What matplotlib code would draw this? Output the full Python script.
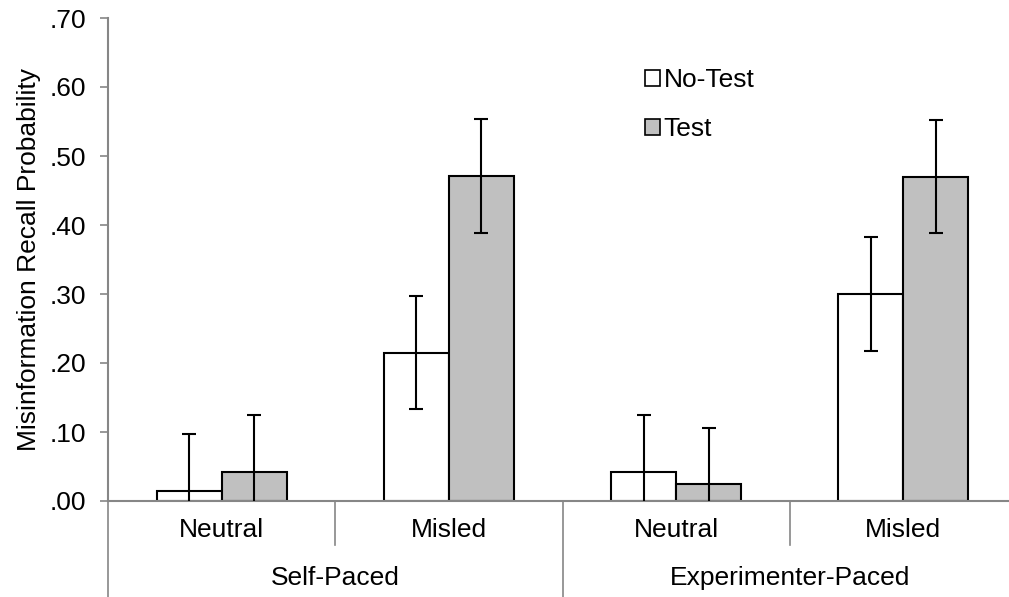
import matplotlib
matplotlib.use("Agg")
import matplotlib.pyplot as plt
import matplotlib.transforms as mtransforms
from matplotlib.patches import Patch
from matplotlib.ticker import FuncFormatter
import numpy as np

plt.rcParams["font.family"] = ["Liberation Sans", "DejaVu Sans"]

# cells: (pacing, item type)
conditions = ["Neutral", "Misled", "Neutral", "Misled"]
groups = ["Self-Paced", "Experimenter-Paced"]
no_test = [0.015, 0.215, 0.042, 0.300]
no_test_err = [0.082, 0.082, 0.082, 0.082]
test = [0.042, 0.471, 0.024, 0.470]
test_err = [0.082, 0.082, 0.082, 0.082]
series_names = ["No-Test", "Test"]

GRAY = "#868686"
FILL = "#c0c0c0"
FS = 19

fig = plt.figure(figsize=(10.09, 5.97), dpi=100)
ax = fig.add_axes([108 / 1009, 1 - 501 / 597, 909 / 1009, 483 / 597])

x = np.arange(len(conditions)) + 0.5
bw = 0.286
ax.bar(x - bw / 2, no_test, bw, color="white", edgecolor="black", lw=1.5, zorder=2)
ax.bar(x + bw / 2, test, bw, color=FILL, edgecolor="black", lw=1.5, zorder=2)
ekw = dict(fmt="none", ecolor="black", elinewidth=1.5, capsize=5, capthick=1.5, zorder=3)
ax.errorbar(x - bw / 2, no_test, yerr=no_test_err, **ekw)
ax.errorbar(x + bw / 2, test, yerr=test_err, **ekw)

ax.set_xlim(0, 4)
ax.set_ylim(0, 0.70)
ax.set_yticks(np.arange(0, 0.71, 0.1))
ax.yaxis.set_major_formatter(FuncFormatter(lambda v, _: f"{v:.2f}"[1:]))
ax.tick_params(axis="y", labelsize=FS, length=6, color=GRAY, width=1.2, pad=10)
ax.set_xticks([])
for s in ["top", "right"]:
    ax.spines[s].set_visible(False)
for s in ["left", "bottom"]:
    ax.spines[s].set_color(GRAY)
    ax.spines[s].set_linewidth(1.5)
ax.set_ylabel("Misinformation Recall Probability", fontsize=FS)
ax.yaxis.set_label_coords(-0.074, 0.5)

# two-level category axis
tr = mtransforms.blended_transform_factory(ax.transData, ax.transAxes)
for xs, y0 in [(1, -0.092), (3, -0.092), (0, -0.21), (2, -0.21), (4, -0.21)]:
    ax.plot([xs, xs], [0, y0], color=GRAY, lw=1.2, transform=tr, clip_on=False)
for xi, lab in zip(x, conditions):
    ax.text(xi, -0.06, lab, transform=tr, ha="center", va="center", fontsize=FS)
for gi, lab in enumerate(groups):
    ax.text(2 * gi + 1, -0.159, lab, transform=tr, ha="center", va="center", fontsize=FS)

handles = [Patch(facecolor="white", edgecolor="black", lw=1.2),
           Patch(facecolor=FILL, edgecolor="black", lw=1.2)]
fig.legend(handles, series_names, loc="upper left", bbox_to_anchor=(632 / 1009, 1 - 55 / 597),
           frameon=False, fontsize=FS, handlelength=0.55, handleheight=0.55,
           handletextpad=0.15, labelspacing=0.95, borderpad=0)

fig.savefig("out.png", dpi=100)
